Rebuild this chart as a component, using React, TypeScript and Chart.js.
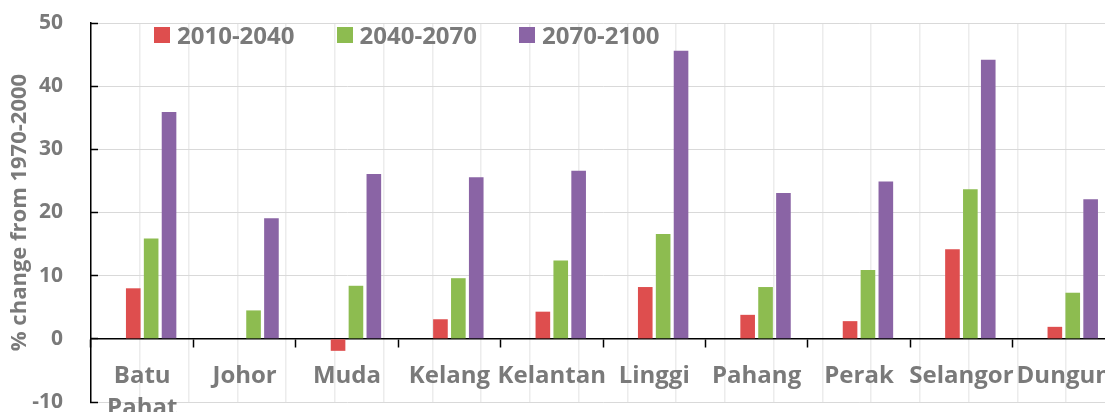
import React, { useEffect, useRef } from 'react';
import { Chart, registerables } from 'chart.js';

Chart.register(...registerables);

const categories: (string | string[])[] = [
  ['Batu', 'Pahat'],
  'Johor',
  'Muda',
  'Kelang',
  'Kelantan',
  'Linggi',
  'Pahang',
  'Perak',
  'Selangor',
  'Dungun',
];

const seriesNames = ['2010-2040', '2040-2070', '2070-2100'];
const values2010_2040 = [8.0, 0, -1.9, 3.1, 4.3, 8.2, 3.8, 2.8, 14.2, 1.9];
const values2040_2070 = [15.9, 4.5, 8.4, 9.6, 12.4, 16.6, 8.2, 10.9, 23.7, 7.3];
const values2070_2100 = [35.9, 19.1, 26.1, 25.6, 26.6, 45.6, 23.1, 24.9, 44.2, 22.1];
// empty leading series slot (the source chart reserves one blank bar per group)
const spacerValues = [null, null, null, null, null, null, null, null, null, null];

const seriesColors = ['#de4e4e', '#8dbc50', '#8a64a5'];
const yMin = -10;
const yMax = 50;
const yStep = 10;
const yTitle = '% change from 1970-2000';

const textGray = '#7a7a7a';
const FONT = "'Open Sans', 'DejaVu Sans', sans-serif";

export default function App() {
  const canvasRef = useRef<HTMLCanvasElement>(null);

  useEffect(() => {
    if (!canvasRef.current) return;
    Chart.defaults.font.family = FONT;
    const chart = new Chart(canvasRef.current, {
      type: 'bar',
      data: {
        labels: categories as any,
        datasets: [
          {
            label: '',
            data: spacerValues as any,
            backgroundColor: 'rgba(0,0,0,0)',
            xAxisID: 'x',
            yAxisID: 'y',
          },
          {
            label: seriesNames[0],
            data: values2010_2040,
            backgroundColor: seriesColors[0],
            xAxisID: 'x',
            yAxisID: 'y',
          },
          {
            label: seriesNames[1],
            data: values2040_2070,
            backgroundColor: seriesColors[1],
            xAxisID: 'x',
            yAxisID: 'y',
          },
          {
            label: seriesNames[2],
            data: values2070_2100,
            backgroundColor: seriesColors[2],
            xAxisID: 'x',
            yAxisID: 'y',
          },
        ],
      },
      options: {
        animation: false,
        responsive: true,
        maintainAspectRatio: false,
        datasets: {
          bar: { categoryPercentage: 0.699, barPercentage: 0.817 },
        },
        layout: { padding: { left: 0, right: 10, top: 23, bottom: 23 } },
        plugins: {
          legend: { display: false },
          tooltip: { enabled: false },
        },
        scales: {
          xg: {
            type: 'linear',
            position: 'bottom',
            min: -0.5,
            max: 9.5,
            ticks: { display: false, stepSize: 0.5, maxTicksLimit: 100 },
            grid: { color: '#ececec', lineWidth: 1.5, drawTicks: false },
            border: { display: false },
            afterFit: (s: any) => {
              s.height = 0;
              s.paddingLeft = 0;
              s.paddingRight = 0;
            },
          } as any,
          x: {
            type: 'category',
            position: { y: 0 } as any,
            offset: true,
            grid: {
              display: true,
              drawOnChartArea: false,
              drawTicks: true,
              tickLength: 8,
              tickColor: '#000',
              tickWidth: 1.5,
              offset: true,
            },
            border: { color: '#000', width: 1.5 },
            ticks: {
              color: textGray,
              font: { size: 24, weight: 'bold', lineHeight: 1.33 },
              padding: 13,
              maxRotation: 0,
              minRotation: 0,
              autoSkip: false,
            },
            afterFit: (s: any) => {
              s.paddingLeft = 0;
              s.paddingRight = 0;
            },
          } as any,
          y: {
            type: 'linear',
            min: yMin,
            max: yMax,
            ticks: {
              stepSize: yStep,
              color: textGray,
              font: { size: 21, weight: 'bold' },
              padding: 35,
            },
            grid: {
              color: '#d9d9d9',
              lineWidth: 1,
              tickColor: '#000',
              tickLength: -7,
              tickWidth: 1.5,
            },
            border: { color: '#000', width: 1.5 },
            title: {
              display: true,
              text: yTitle,
              color: textGray,
              font: { size: 22, weight: 'bold' },
              padding: { top: 7, bottom: 0 },
            },
            afterFit: (s: any) => {
              s.width = 91;
              s.paddingTop = 12;
              s.paddingBottom = 12;
            },
          } as any,
        },
      },
    });
    return () => chart.destroy();
  }, []);

  return (
    <div
      style={{
        position: 'fixed',
        left: 0,
        top: 0,
        width: 1105,
        height: 412,
        overflow: 'hidden',
        background: '#fff',
      }}
    >
      <div style={{ position: 'absolute', left: 0, top: 0, width: 1125, height: 425 }}>
        <canvas ref={canvasRef} />
      </div>
      <div
        style={{
          position: 'absolute',
          left: 154,
          top: 22.5,
          display: 'flex',
          alignItems: 'center',
          columnGap: 42,
          fontFamily: FONT,
          fontWeight: 700,
          fontSize: 24,
          lineHeight: '24px',
          color: textGray,
          whiteSpace: 'nowrap',
        }}
      >
        {seriesNames.map((name, i) => (
          <div key={name} style={{ display: 'flex', alignItems: 'center' }}>
            <span
              style={{
                display: 'inline-block',
                width: 16,
                height: 16,
                background: seriesColors[i],
                marginRight: 7,
              }}
            />
            <span>{name}</span>
          </div>
        ))}
      </div>
    </div>
  );
}
